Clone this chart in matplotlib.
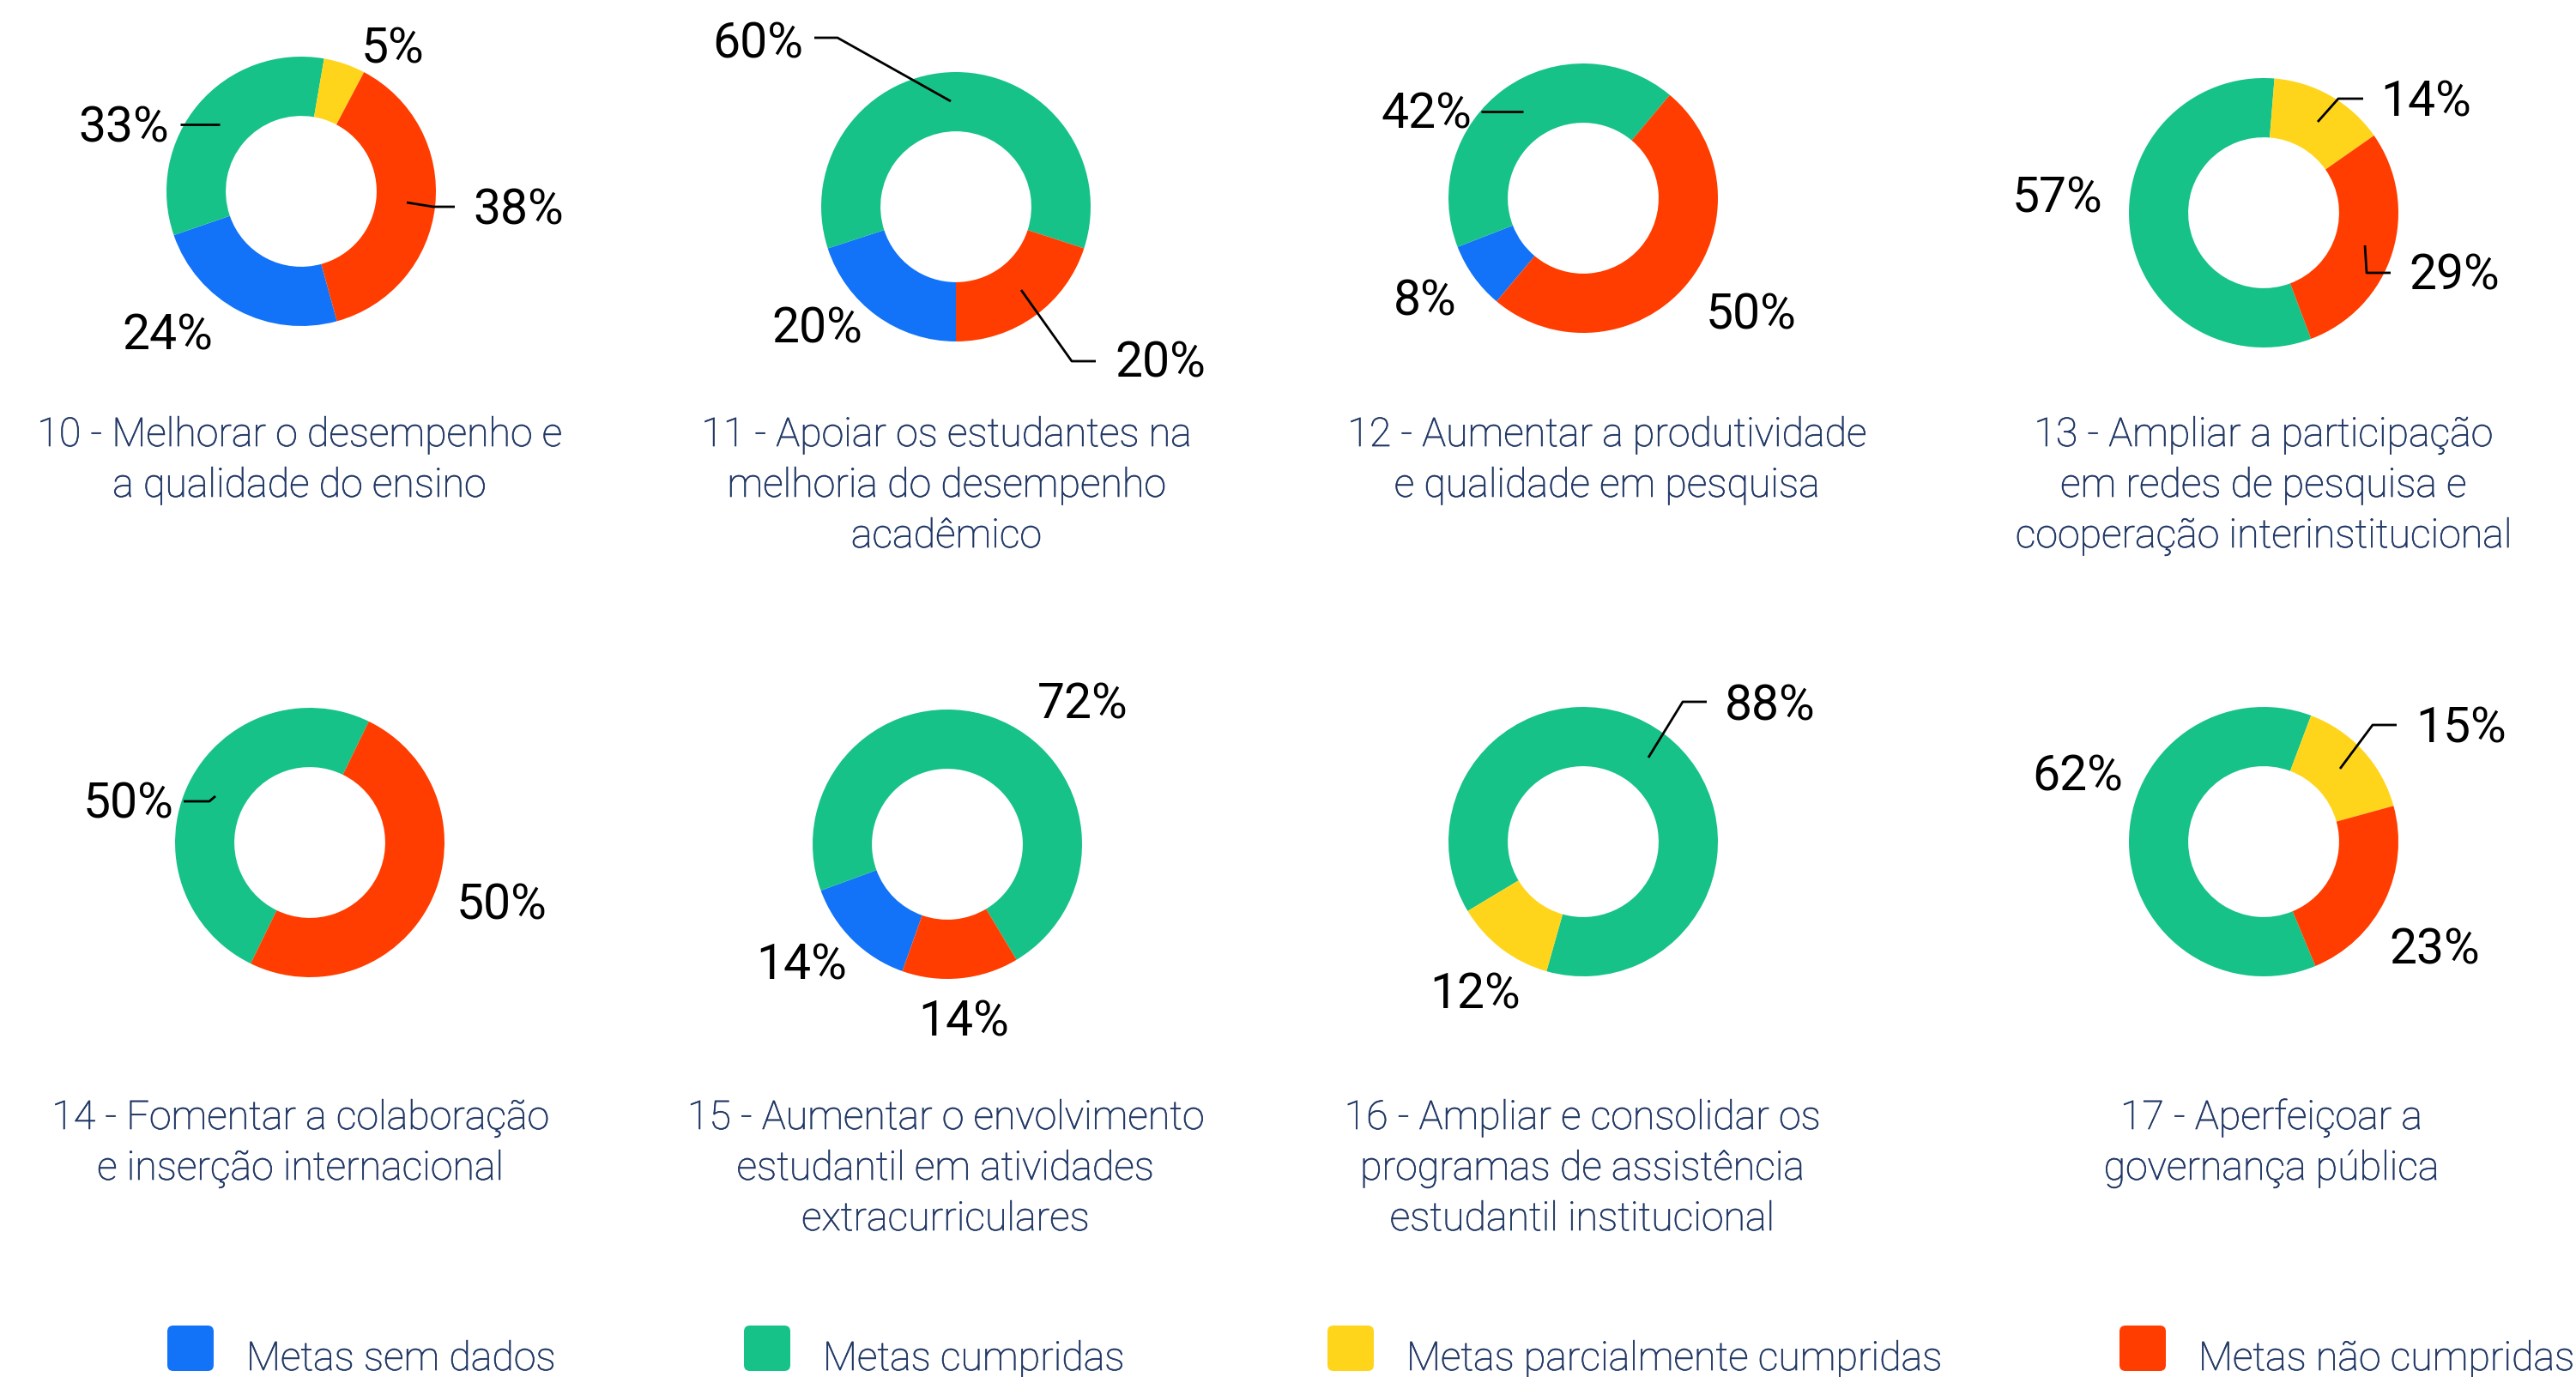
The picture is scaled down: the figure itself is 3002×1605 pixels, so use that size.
import matplotlib
matplotlib.use("Agg")
import matplotlib.pyplot as plt
import matplotlib.patheffects as pe
from matplotlib.patches import FancyBboxPatch

# ---- data ----
categories = ["Metas sem dados", "Metas cumpridas",
              "Metas parcialmente cumpridas", "Metas não cumpridas"]
titles = [
    ["10 - Melhorar o desempenho e", "a qualidade do ensino"],
    ["11 - Apoiar os estudantes na", "melhoria do desempenho", "acadêmico"],
    ["12 - Aumentar a produtividade", "e qualidade em pesquisa"],
    ["13 - Ampliar a participação", "em redes de pesquisa e",
     "cooperação interinstitucional"],
    ["14 - Fomentar a colaboração", "e inserção internacional"],
    ["15 - Aumentar o envolvimento", "estudantil em atividades",
     "extracurriculares"],
    ["16 - Ampliar e consolidar os", "programas de assistência",
     "estudantil institucional"],
    ["17 - Aperfeiçoar a", "governança pública"],
]
sem_dados = [24, 20, 8, 0, 0, 14, 0, 0]
cumpridas = [33, 60, 42, 57, 50, 72, 88, 62]
parciais = [5, 0, 0, 14, 0, 0, 12, 15]
nao_cumpridas = [38, 20, 50, 29, 50, 14, 0, 23]

# ---- style / layout ----
COLORS = ["#1273F8", "#16C287", "#FFD51C", "#FF3D00"]
NAVY = "#213866"
W, H = 3002, 1605
R = 157          # outer radius, px
HOLE = 0.56      # inner / outer

centers = [(351, 223), (1114, 241), (1845, 231), (2638, 248),
           (361, 982), (1104, 984), (1845, 981), (2638, 981)]
# clockwise-from-top angle where the first present slice starts
start_cw = [164.6, 180, 220, 159.4, 206, 199.5, 239, 157.4]
title_x = [349, 1103, 1873, 2638, 350, 1102, 1844, 2647]
title_y = [520, 520, 520, 520, 1316, 1316, 1316, 1316]

# label offsets from the donut centre (px), per category index,
# with optional leader polyline (also relative to centre)
labels = [
    {0: ((-156, 163), None),
     1: ((-207, -79), [(-141, -78), (-95, -78)]),
     2: ((107, -171), None),
     3: ((253, 18), [(123, 13), (154, 18), (179, 18)])},
    {0: ((-162, 138), None),
     1: ((-231, -195), [(-165, -197), (-138, -197), (-6, -123)]),
     3: ((238, 178), [(76, 97), (135, 180), (163, 180)])},
    {0: ((-184, 116), None),
     1: ((-183, -102), [(-119, -101), (-70, -101)]),
     3: ((196, 131), None)},
    {1: ((-240, -21), None),
     2: ((189, -134), [(63, -106), (87, -133), (116, -133)]),
     3: ((222, 69), [(118, 38), (120, 70), (148, 70)])},
    {1: ((-211, -50), [(-147, -48), (-117, -48), (-110, -54)]),
     3: ((224, 68), None)},
    {0: ((-170, 136), None),
     1: ((158, -167), None),
     3: ((19, 203), None)},
    {1: ((218, -163), [(76, -98), (116, -163), (144, -163)]),
     2: ((-126, 173), None)},
    {1: ((-217, -81), None),
     2: ((230, -136), [(89, -85), (127, -136), (155, -136)]),
     3: ((199, 122), None)},
]

legend_x = [195, 867, 1547, 2470]

# light font, slightly thickened to match the reference rendering
thin_stroke = [pe.withStroke(linewidth=0.5, foreground=NAVY)]

fig = plt.figure(figsize=(W / 100, H / 100), dpi=100)
fig.patch.set_facecolor("white")

for i, (cx, cy) in enumerate(centers):
    vals = [sem_dados[i], cumpridas[i], parciais[i], nao_cumpridas[i]]
    idx = [k for k, v in enumerate(vals) if v > 0]
    ax = fig.add_axes([(cx - R) / W, 1 - (cy + R) / H, 2 * R / W, 2 * R / H])
    ax.pie([vals[k] for k in idx], colors=[COLORS[k] for k in idx],
           startangle=90 - start_cw[i], counterclock=False, radius=1,
           wedgeprops=dict(width=1 - HOLE, linewidth=0))
    ax.set_xlim(-1, 1)
    ax.set_ylim(-1, 1)
    ax.set_axis_off()

# overlay in pixel coordinates for texts and leader lines
ov = fig.add_axes([0, 0, 1, 1], zorder=5)
ov.set_xlim(0, W)
ov.set_ylim(H, 0)
ov.set_axis_off()
ov.patch.set_alpha(0)

for i, (cx, cy) in enumerate(centers):
    vals = [sem_dados[i], cumpridas[i], parciais[i], nao_cumpridas[i]]
    for k, ((dx, dy), leader) in labels[i].items():
        ov.text(cx + dx, cy + dy + 21, f"{vals[k]}%", ha="center",
                va="baseline", fontsize=41, family="Roboto", color="black")
        if leader:
            ov.plot([cx + p[0] for p in leader], [cy + p[1] for p in leader],
                    color="black", lw=2, solid_capstyle="butt")
    for j, line in enumerate(titles[i]):
        ov.text(title_x[i], title_y[i] + 59 * j, line, ha="center",
                va="baseline", fontsize=33.5, family="Roboto",
                fontweight="light", color=NAVY, path_effects=thin_stroke)

for k, name in enumerate(categories):
    x0 = legend_x[k]
    ov.add_patch(FancyBboxPatch((x0, 1545), 54, 53,
                                boxstyle="round,pad=0,rounding_size=7",
                                facecolor=COLORS[k], edgecolor="none"))
    ov.text(x0 + 92, 1597, name, ha="left", va="baseline", fontsize=33.5,
            family="Roboto", fontweight="light", color=NAVY,
            path_effects=thin_stroke)

fig.savefig("out.png", dpi=100, facecolor="white")
